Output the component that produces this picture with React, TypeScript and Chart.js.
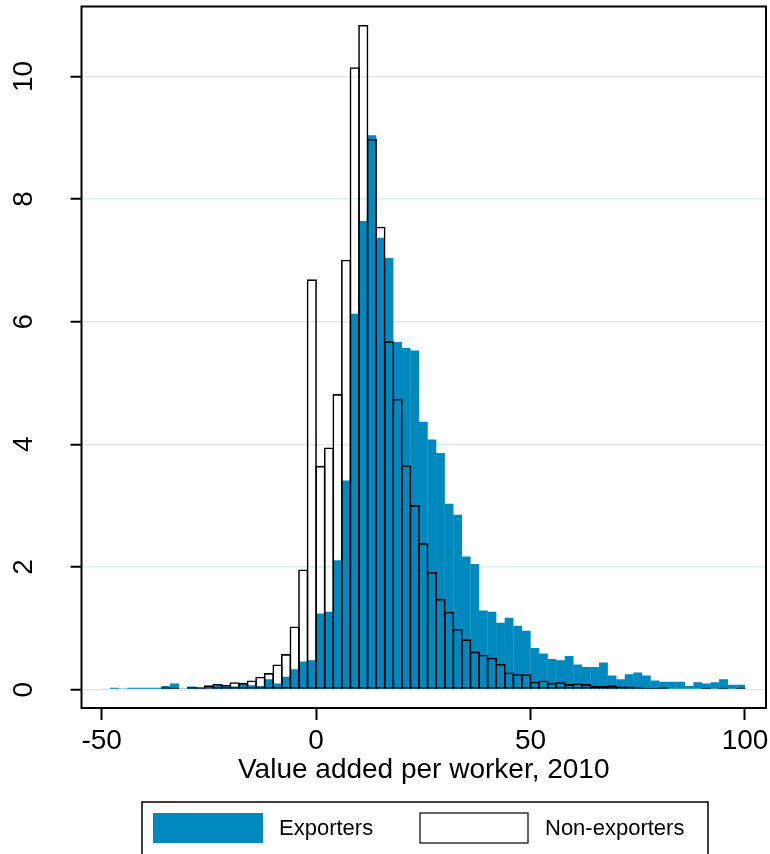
import React, { useEffect, useRef } from 'react';
import { Chart, registerables } from 'chart.js';

Chart.register(...registerables);

// Bin centres (bin width 2, from -50 to 100)
const binCenters = [
  -49, -47, -45, -43, -41, -39, -37, -35, -33, -31,
  -29, -27, -25, -23, -21, -19, -17, -15, -13, -11,
  -9, -7, -5, -3, -1, 1, 3, 5, 7, 9,
  11, 13, 15, 17, 19, 21, 23, 25, 27, 29,
  31, 33, 35, 37, 39, 41, 43, 45, 47, 49,
  51, 53, 55, 57, 59, 61, 63, 65, 67, 69,
  71, 73, 75, 77, 79, 81, 83, 85, 87, 89,
  91, 93, 95, 97, 99,
];

const exporters = [
  0, 0.03, 0.01, 0.03, 0.03, 0.03, 0.03, 0.06, 0.10, 0.02,
  0.05, 0.03, 0.02, 0.06, 0.07, 0.05, 0.10, 0.07, 0.06, 0.17,
  0.10, 0.21, 0.33, 0.46, 0.48, 1.24, 1.27, 2.11, 3.41, 6.13,
  7.64, 9.04, 7.37, 7.04, 5.67, 5.57, 5.53, 4.37, 4.08, 3.86,
  3.03, 2.85, 2.17, 2.05, 1.29, 1.27, 1.09, 1.17, 1.04, 0.96,
  0.68, 0.59, 0.50, 0.48, 0.55, 0.41, 0.37, 0.37, 0.44, 0.23,
  0.17, 0.25, 0.28, 0.23, 0.15, 0.13, 0.13, 0.13, 0.06, 0.12,
  0.10, 0.12, 0.17, 0.08, 0.08,
];

const nonExporters = [
  0.01, 0.01, 0.02, 0.01, 0.01, 0.01, 0.01, 0.04, 0.03, 0.02,
  0.04, 0.04, 0.07, 0.09, 0.08, 0.12, 0.11, 0.15, 0.21, 0.27,
  0.41, 0.58, 1.03, 1.96, 6.69, 3.65, 3.95, 4.82, 7.01, 10.15,
  10.84, 8.98, 7.55, 5.68, 4.74, 3.66, 3.01, 2.39, 1.92, 1.48,
  1.27, 0.99, 0.82, 0.62, 0.57, 0.52, 0.42, 0.28, 0.25, 0.25,
  0.13, 0.15, 0.11, 0.12, 0.09, 0.10, 0.09, 0.06, 0.06, 0.07,
  0.05, 0.05, 0.04, 0.03, 0.03, 0.04, 0.02, 0.02, 0.02, 0.02,
  0.03, 0.01, 0.03, 0.01, 0.03,
];

const xTickValues = [-50, 0, 50, 100];
const yTickValues = [0, 2, 4, 6, 8, 10];
const seriesLabels = ['Exporters', 'Non-exporters'];
const xTitle = 'Value added per worker, 2010';

const BLUE = '#0089BE';
const FONT = "'Liberation Sans', Arial, Helvetica, sans-serif";

const framePlugin = {
  id: 'plotFrame',
  afterDatasetsDraw(chart: any) {
    const { ctx, chartArea: a } = chart;
    ctx.save();
    ctx.strokeStyle = '#000';
    ctx.lineWidth = 2;
    ctx.strokeRect(a.left, a.top, a.right - a.left, a.bottom - a.top);
    ctx.restore();
  },
};

const boxLegendPlugin = {
  id: 'boxLegend',
  afterDraw(chart: any) {
    const { ctx } = chart;
    const ds = chart.data.datasets;
    ctx.save();
    ctx.strokeStyle = '#000';
    ctx.lineWidth = 1.5;
    ctx.strokeRect(142, 802, 566, 80);
    const slots = [
      { x: 153, tx: 279 },
      { x: 420, tx: 545 },
    ];
    const entries = [ds[0], ds[1]];
    entries.forEach((d: any, i: number) => {
      const s = slots[i];
      const fill = d.backgroundColor;
      if (fill && fill !== 'rgba(0,0,0,0)') {
        ctx.fillStyle = fill;
        ctx.fillRect(s.x, 813, 110, 30);
      } else {
        ctx.fillStyle = '#fff';
        ctx.fillRect(s.x, 813, 108, 30);
        ctx.strokeStyle = '#000';
        ctx.lineWidth = 1.2;
        ctx.strokeRect(s.x, 813, 108, 30);
      }
      ctx.fillStyle = '#000';
      ctx.font = `22px ${FONT}`;
      ctx.textBaseline = 'middle';
      ctx.textAlign = 'left';
      ctx.fillText(d.label, s.tx, 829);
    });
    ctx.restore();
  },
};

export default function App() {
  const ref = useRef<HTMLCanvasElement>(null);

  useEffect(() => {
    if (!ref.current) return;
    const chart = new Chart(ref.current, {
      type: 'bar',
      data: {
        datasets: [
          {
            label: seriesLabels[0],
            data: binCenters.map((x, i) => ({ x, y: exporters[i] })),
            backgroundColor: BLUE,
            borderWidth: 0,
            grouped: false,
            barPercentage: 1.03,
            categoryPercentage: 1,
            order: 1,
          } as any,
          {
            label: seriesLabels[1],
            data: binCenters.map((x, i) => ({ x, y: nonExporters[i] })),
            backgroundColor: 'rgba(0,0,0,0)',
            borderColor: '#000',
            borderWidth: 1.6,
            borderSkipped: false,
            grouped: false,
            barPercentage: 1.186,
            categoryPercentage: 1,
            order: 0,
          } as any,
        ],
      },
      options: {
        responsive: false,
        animation: false,
        events: [],
        layout: { padding: { top: 6.5, right: 4, bottom: 46, left: 0 } },
        plugins: {
          legend: { display: false },
          tooltip: { enabled: false },
        },
        scales: {
          x: {
            type: 'linear',
            min: -54.7,
            max: 104.9,
            offset: false,
            afterBuildTicks: (s: any) => {
              s.ticks = xTickValues.map((v) => ({ value: v }));
            },
            afterFit: (s: any) => {
              s.height = 100;
              s.paddingLeft = 0;
              s.paddingRight = 0;
            },
            ticks: {
              color: '#000',
              font: { family: FONT, size: 28 },
              padding: 4,
              maxRotation: 0,
              minRotation: 0,
              autoSkip: false,
            },
            grid: {
              offset: false,
              drawOnChartArea: false,
              drawTicks: true,
              tickLength: 12,
              tickColor: '#000',
              tickWidth: 2,
            },
            border: { display: false },
            title: {
              display: true,
              text: xTitle,
              color: '#000',
              font: { family: FONT, size: 28 },
              padding: { top: 0, bottom: 21 },
            },
          },
          y: {
            type: 'linear',
            min: -0.3,
            max: 11.14,
            afterBuildTicks: (s: any) => {
              s.ticks = yTickValues.map((v) => ({ value: v }));
            },
            afterFit: (s: any) => {
              s.width = 81.5;
              s.paddingTop = 0;
              s.paddingBottom = 0;
            },
            ticks: {
              color: '#000',
              font: { family: FONT, size: 28 },
              padding: 31,
              minRotation: 90,
              maxRotation: 90,
              crossAlign: 'center',
            },
            grid: {
              color: '#DFEBEE',
              lineWidth: 1.5,
              drawTicks: true,
              tickLength: 11,
              tickColor: '#000',
              tickWidth: 2,
            },
            border: { display: false },
          },
        },
      } as any,
      plugins: [framePlugin, boxLegendPlugin],
    });
    return () => chart.destroy();
  }, []);

  return (
    <div style={{ position: 'absolute', left: 0, top: 0, width: 770, height: 854, background: '#fff' }}>
      <canvas ref={ref} width={770} height={854} style={{ display: 'block', width: 770, height: 854 }} />
    </div>
  );
}
